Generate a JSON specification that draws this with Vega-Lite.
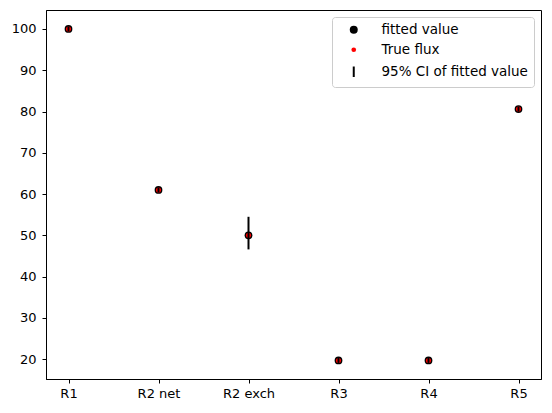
{
  "$schema": "https://vega.github.io/schema/vega-lite/v6.json",
  "width": 495,
  "height": 369,
  "autosize": {"type": "none"},
  "padding": {"left": 46, "top": 10, "right": 11, "bottom": 34},
  "background": "white",
  "data": {
    "values": [
      {"reaction": "R1", "fitted": 100.0, "true": 100.0, "lo": 99.4, "hi": 100.6},
      {"reaction": "R2 net", "fitted": 61.0, "true": 61.0, "lo": 60.4, "hi": 61.6},
      {"reaction": "R2 exch", "fitted": 50.0, "true": 50.0, "lo": 46.6, "hi": 54.5},
      {"reaction": "R3", "fitted": 19.7, "true": 19.7, "lo": 19.1, "hi": 20.3},
      {"reaction": "R4", "fitted": 19.7, "true": 19.7, "lo": 19.1, "hi": 20.3},
      {"reaction": "R5", "fitted": 80.6, "true": 80.6, "lo": 80.0, "hi": 81.2}
    ]
  },
  "encoding": {
    "x": {
      "field": "reaction",
      "type": "ordinal",
      "sort": null,
      "scale": {"type": "point", "padding": 0.25},
      "axis": {"title": null, "labelAngle": 0, "labelPadding": 4}
    }
  },
  "layer": [
    {
      "mark": {"type": "circle", "size": 60, "opacity": 1},
      "encoding": {
        "y": {
          "field": "fitted",
          "type": "quantitative",
          "scale": {"domain": [15.2, 104.6], "nice": false, "zero": false},
          "axis": {"title": null, "values": [20, 30, 40, 50, 60, 70, 80, 90, 100], "labelPadding": 6}
        },
        "color": {
          "datum": "fitted value",
          "type": "nominal",
          "scale": {
            "domain": ["fitted value", "True flux", "95% CI of fitted value"],
            "range": ["black", "red", "black"]
          },
          "legend": {
            "title": null,
            "orient": "top-right",
            "offset": 7,
            "padding": 6,
            "fillColor": "white",
            "strokeColor": "#cccccc",
            "cornerRadius": 3,
            "labelFont": "DejaVu Sans",
            "labelFontSize": 13.5,
            "labelColor": "black",
            "labelOffset": 21,
            "symbolSize": 100,
            "symbolOffset": 9,
            "rowPadding": 5,
            "symbolOpacity": 1,
            "encode": {
              "symbols": {
                "update": {
                  "shape": {"signal": "datum.value === '95% CI of fitted value' ? 'M0,-1L0,1' : 'circle'"},
                  "size": {"signal": "datum.value === 'True flux' ? 22 : datum.value === 'fitted value' ? 64 : 110"},
                  "fill": {"signal": "datum.value === 'True flux' ? 'red' : 'black'"},
                  "stroke": {"signal": "datum.value === 'True flux' ? 'red' : 'black'"},
                  "strokeWidth": {"signal": "datum.value === '95% CI of fitted value' ? 2 : 0"},
                  "opacity": {"value": 1}
                }
              }
            }
          }
        }
      }
    },
    {
      "mark": {"type": "circle", "size": 26, "opacity": 1},
      "encoding": {
        "y": {"field": "true", "type": "quantitative"},
        "color": {"datum": "True flux", "type": "nominal"}
      }
    },
    {
      "mark": {"type": "rule", "strokeWidth": 2},
      "encoding": {
        "y": {"field": "lo", "type": "quantitative"},
        "y2": {"field": "hi"},
        "color": {"datum": "95% CI of fitted value", "type": "nominal"}
      }
    }
  ],
  "config": {
    "font": "DejaVu Sans",
    "view": {"stroke": "black", "strokeWidth": 1},
    "axis": {
      "grid": false,
      "domainColor": "black",
      "tickColor": "black",
      "tickSize": 4,
      "labelFont": "DejaVu Sans",
      "labelFontSize": 13,
      "labelColor": "black"
    }
  }
}
